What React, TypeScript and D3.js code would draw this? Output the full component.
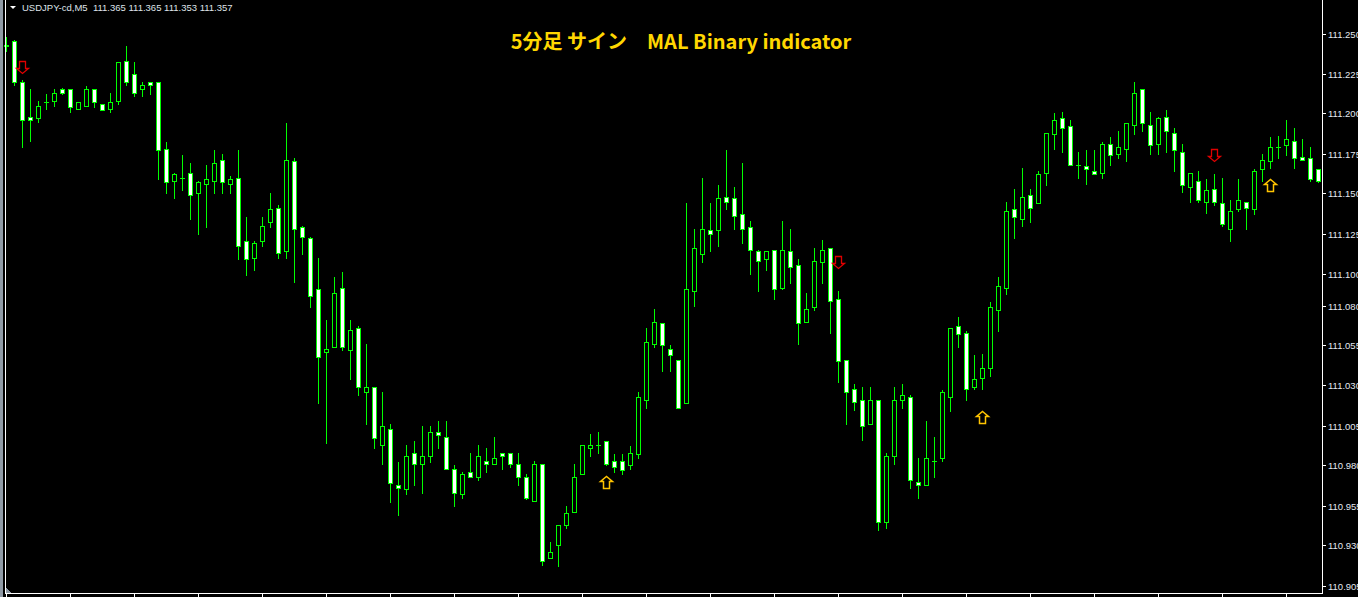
import React, { useRef, useEffect } from "react";
import * as d3 from "d3";

// USDJPY M5 bars, left to right
const openPrices = [
  111.243, 111.245, 111.220, 111.198, 111.197, 111.207, 111.208, 111.215, 111.215, 111.203,
  111.205, 111.215, 111.206, 111.203, 111.208, 111.233, 111.225, 111.215, 111.220, 111.220,
  111.178, 111.158, 111.160, 111.163, 111.150, 111.156, 111.158, 111.171, 111.156, 111.160,
  111.120, 111.110, 111.120, 111.132, 111.141, 111.114, 111.170, 111.129, 111.122, 111.090,
  111.051, 111.054, 111.091, 111.052, 111.066, 111.026, 111.029, 110.993, 111.003, 110.968,
  110.965, 110.988, 110.981, 110.986, 111.001, 110.998, 110.978, 110.962, 110.976, 110.973,
  110.983, 110.981, 110.988, 110.988, 110.981, 110.973, 110.958, 110.981, 110.922, 110.930,
  110.943, 110.951, 110.975, 110.991, 110.993, 110.995, 110.983, 110.983, 110.980, 110.987,
  111.021, 111.056, 111.069, 111.053, 111.046, 111.019, 111.089, 111.112, 111.127, 111.127,
  111.148, 111.147, 111.137, 111.129, 111.114, 111.109, 111.115, 111.091, 111.114, 111.105,
  111.070, 111.079, 111.107, 111.116, 111.084, 111.046, 111.028, 111.021, 111.006, 111.021,
  110.945, 110.986, 111.021, 111.023, 110.970, 110.968, 110.983, 110.985, 111.023, 111.067,
  111.063, 111.029, 111.035, 111.041, 111.077, 111.091, 111.140, 111.134, 111.149, 111.144,
  111.163, 111.187, 111.197, 111.192, 111.168, 111.167, 111.164, 111.163, 111.181, 111.175,
  111.178, 111.193, 111.215, 111.193, 111.181, 111.198, 111.188, 111.176, 111.154, 111.158,
  111.145, 111.153, 111.144, 111.128, 111.140, 111.145, 111.140, 111.165, 111.170, 111.179,
  111.180, 111.183, 111.173, 111.172, 111.165,
];
const highPrices = [
  111.248, 111.246, 111.221, 111.215, 111.208, 111.212, 111.215, 111.216, 111.215, 111.207,
  111.217, 111.215, 111.206, 111.213, 111.232, 111.242, 111.232, 111.220, 111.220, 111.220,
  111.182, 111.163, 111.174, 111.169, 111.158, 111.168, 111.177, 111.175, 111.161, 111.177,
  111.135, 111.120, 111.135, 111.150, 111.143, 111.194, 111.172, 111.130, 111.123, 111.110,
  111.071, 111.098, 111.101, 111.071, 111.067, 111.056, 111.029, 111.026, 111.006, 110.982,
  110.993, 110.995, 111.005, 111.005, 111.008, 111.008, 110.980, 110.976, 110.988, 110.993,
  110.991, 110.998, 110.988, 110.988, 110.988, 110.975, 110.983, 110.981, 110.932, 110.943,
  110.955, 110.981, 110.993, 111.000, 111.001, 110.995, 110.987, 110.987, 110.992, 111.026,
  111.066, 111.078, 111.069, 111.055, 111.046, 111.144, 111.128, 111.160, 111.144, 111.155,
  111.177, 111.154, 111.169, 111.133, 111.115, 111.114, 111.115, 111.133, 111.128, 111.109,
  111.088, 111.116, 111.121, 111.116, 111.089, 111.046, 111.031, 111.029, 111.029, 111.021,
  110.988, 111.029, 111.031, 111.024, 110.985, 111.008, 110.998, 111.027, 111.066, 111.073,
  111.064, 111.049, 111.050, 111.082, 111.098, 111.145, 111.153, 111.166, 111.153, 111.164,
  111.188, 111.200, 111.201, 111.196, 111.176, 111.177, 111.177, 111.182, 111.185, 111.189,
  111.194, 111.220, 111.215, 111.201, 111.198, 111.202, 111.191, 111.181, 111.163, 111.164,
  111.159, 111.162, 111.160, 111.146, 111.159, 111.145, 111.165, 111.175, 111.185, 111.186,
  111.196, 111.191, 111.184, 111.179, 111.165,
];
const lowPrices = [
  111.239, 111.218, 111.179, 111.183, 111.195, 111.203, 111.205, 111.212, 111.201, 111.203,
  111.205, 111.204, 111.202, 111.201, 111.206, 111.218, 111.211, 111.211, 111.212, 111.159,
  111.150, 111.147, 111.152, 111.134, 111.125, 111.129, 111.150, 111.150, 111.150, 111.109,
  111.099, 111.102, 111.117, 111.129, 111.110, 111.110, 111.095, 111.112, 111.079, 111.019,
  110.994, 111.054, 111.052, 111.034, 111.024, 111.006, 110.991, 110.981, 110.957, 110.949,
  110.962, 110.968, 110.963, 110.982, 110.991, 110.978, 110.955, 110.960, 110.973, 110.971,
  110.976, 110.981, 110.978, 110.979, 110.968, 110.959, 110.958, 110.918, 110.922, 110.917,
  110.941, 110.951, 110.975, 110.986, 110.988, 110.980, 110.976, 110.975, 110.978, 110.985,
  111.016, 111.054, 111.039, 111.039, 111.016, 111.019, 111.080, 111.107, 111.114, 111.117,
  111.140, 111.128, 111.119, 111.100, 111.089, 111.102, 111.084, 111.090, 111.094, 111.056,
  111.070, 111.077, 111.094, 111.063, 111.032, 111.006, 111.015, 110.996, 111.006, 110.940,
  110.941, 110.981, 111.016, 110.966, 110.960, 110.968, 110.973, 110.983, 111.014, 111.054,
  111.021, 111.028, 111.028, 111.036, 111.064, 111.087, 111.122, 111.130, 111.132, 111.144,
  111.155, 111.178, 111.176, 111.168, 111.160, 111.156, 111.162, 111.160, 111.168, 111.172,
  111.170, 111.187, 111.189, 111.175, 111.175, 111.176, 111.164, 111.151, 111.145, 111.145,
  111.138, 111.143, 111.130, 111.120, 111.139, 111.128, 111.137, 111.158, 111.166, 111.172,
  111.174, 111.166, 111.171, 111.158, 111.157,
];
const closePrices = [
  111.242, 111.220, 111.196, 111.196, 111.205, 111.207, 111.213, 111.213, 111.204, 111.207,
  111.215, 111.207, 111.202, 111.207, 111.232, 111.220, 111.213, 111.218, 111.218, 111.177,
  111.157, 111.162, 111.160, 111.149, 111.157, 111.159, 111.169, 111.157, 111.159, 111.117,
  111.109, 111.119, 111.130, 111.140, 111.113, 111.171, 111.128, 111.123, 111.086, 111.048,
  111.053, 111.088, 111.054, 111.065, 111.029, 111.029, 110.997, 111.005, 110.969, 110.966,
  110.986, 110.981, 110.986, 111.001, 110.999, 110.978, 110.963, 110.975, 110.973, 110.986,
  110.981, 110.985, 110.986, 110.981, 110.973, 110.960, 110.981, 110.920, 110.926, 110.943,
  110.950, 110.973, 110.993, 110.993, 110.993, 110.981, 110.979, 110.977, 110.988, 111.023,
  111.057, 111.070, 111.055, 111.049, 111.016, 111.090, 111.116, 111.128, 111.125, 111.147,
  111.145, 111.136, 111.128, 111.115, 111.108, 111.114, 111.090, 111.115, 111.104, 111.069,
  111.078, 111.108, 111.115, 111.083, 111.045, 111.026, 111.020, 111.005, 111.021, 110.945,
  110.986, 111.021, 111.024, 110.971, 110.968, 110.985, 110.983, 111.026, 111.066, 111.062,
  111.028, 111.034, 111.041, 111.079, 111.092, 111.139, 111.135, 111.148, 111.141, 111.162,
  111.188, 111.196, 111.191, 111.168, 111.168, 111.165, 111.162, 111.181, 111.174, 111.179,
  111.194, 111.213, 111.194, 111.180, 111.197, 111.189, 111.177, 111.155, 111.163, 111.146,
  111.152, 111.145, 111.131, 111.139, 111.146, 111.141, 111.164, 111.171, 111.179, 111.179,
  111.184, 111.172, 111.171, 111.159, 111.158,
];

const priceTicks = [
  111.25, 111.225, 111.2, 111.175, 111.15, 111.125, 111.1, 111.08,
  111.055, 111.03, 111.005, 110.98, 110.955, 110.93, 110.905,
];

// indicator arrows: bar index + price level of the arrow centre
const sellBars = [2, 104, 151];
const sellLevels = [111.229, 111.107, 111.174];
const buyBars = [75, 122, 158];
const buyLevels = [110.97, 111.01, 111.155];

const symbolLabel = "USDJPY-cd,M5  111.365 111.365 111.353 111.357";
const chartTitle = "5分足 サイン　MAL Binary indicator";

const W = 1358;
const H = 597;
const axisX = 1322;
const bottomY = 593;

const App = () => {
  const ref = useRef<SVGSVGElement>(null);

  useEffect(() => {
    document.body.style.margin = "0";
    document.body.style.background = "#000";
    const svg = d3.select(ref.current);
    svg.selectAll("*").remove();

    const n = openPrices.length;
    const x = d3.scaleLinear().domain([0, n - 1]).range([6, 6 + 8 * (n - 1)]);
    const y = d3.scaleLinear().domain([110.905, 111.25]).range([585.5, 33.5]);
    const py = (v: number) => Math.round(y(v));

    svg.append("rect").attr("width", W).attr("height", H).attr("fill", "#000");

    const bars = d3.range(n).map((i) => ({
      i,
      o: openPrices[i],
      h: highPrices[i],
      l: lowPrices[i],
      c: closePrices[i],
    }));

    const g = svg.append("g").attr("shape-rendering", "crispEdges");

    // wicks
    g.selectAll("line.wick")
      .data(bars)
      .join("line")
      .attr("class", "wick")
      .attr("x1", (d) => x(d.i) + 0.5)
      .attr("x2", (d) => x(d.i) + 0.5)
      .attr("y1", (d) => py(d.h))
      .attr("y2", (d) => py(d.l) + 1)
      .attr("stroke", "#00ff00")
      .attr("stroke-width", 1);

    // bodies: white = falling bar, black = rising bar
    const bodies = bars.filter((d) => d.o !== d.c);
    g.selectAll("rect.body")
      .data(bodies)
      .join("rect")
      .attr("class", "body")
      .attr("x", (d) => x(d.i) - 1.5)
      .attr("y", (d) => py(Math.max(d.o, d.c)) + 0.5)
      .attr("width", 4)
      .attr("height", (d) => Math.max(1, py(Math.min(d.o, d.c)) - py(Math.max(d.o, d.c))))
      .attr("fill", (d) => (d.c < d.o ? "#ffffff" : "#000000"))
      .attr("stroke", "#00ff00")
      .attr("stroke-width", 1);

    // doji
    g.selectAll("line.doji")
      .data(bars.filter((d) => d.o === d.c))
      .join("line")
      .attr("class", "doji")
      .attr("x1", (d) => x(d.i) - 2)
      .attr("x2", (d) => x(d.i) + 3)
      .attr("y1", (d) => py(d.o) + 0.5)
      .attr("y2", (d) => py(d.o) + 0.5)
      .attr("stroke", "#00ff00");

    // signal arrows
    const downArrow = "M-3,-6L3,-6L3,1L6,1L0,6L-6,1L-3,1Z";
    const upArrow = "M-3,6L3,6L3,-1L6,-1L0,-6L-6,-1L-3,-1Z";
    svg.append("g")
      .selectAll("path")
      .data(sellBars.map((b, k) => ({ b, p: sellLevels[k] })))
      .join("path")
      .attr("transform", (d) => `translate(${x(d.b) + 0.5},${py(d.p) + 0.5})`)
      .attr("d", downArrow)
      .attr("fill", "none")
      .attr("stroke", "#e00000")
      .attr("stroke-width", 1.3);
    svg.append("g")
      .selectAll("path")
      .data(buyBars.map((b, k) => ({ b, p: buyLevels[k] })))
      .join("path")
      .attr("transform", (d) => `translate(${x(d.b) + 0.5},${py(d.p) + 0.5})`)
      .attr("d", upArrow)
      .attr("fill", "none")
      .attr("stroke", "#ffc400")
      .attr("stroke-width", 1.5);

    // frame
    const frame = svg.append("g").attr("shape-rendering", "crispEdges");
    frame.append("rect").attr("x", 0).attr("y", 0).attr("width", 3).attr("height", H).attr("fill", "#8e99a4");
    frame.append("line").attr("x1", 5.5).attr("x2", 5.5).attr("y1", 0).attr("y2", bottomY + 1)
      .attr("stroke", "#ffffff");
    frame.append("line").attr("x1", axisX + 0.5).attr("x2", axisX + 0.5).attr("y1", 0).attr("y2", bottomY + 1)
      .attr("stroke", "#ffffff");
    frame.append("line").attr("x1", 5).attr("x2", axisX + 1).attr("y1", bottomY + 0.5).attr("y2", bottomY + 0.5)
      .attr("stroke", "#ffffff");
    frame.append("path").attr("d", `M6,${bottomY - 5}L11,${bottomY}L6,${bottomY}Z`).attr("fill", "#8e99a4");

    // time ticks every 8 bars
    frame.selectAll("line.tt")
      .data(d3.range(0, n, 8))
      .join("line")
      .attr("class", "tt")
      .attr("x1", (i) => x(i) + 0.5)
      .attr("x2", (i) => x(i) + 0.5)
      .attr("y1", bottomY)
      .attr("y2", H)
      .attr("stroke", "#ffffff");

    // price axis
    frame.selectAll("line.pt")
      .data(priceTicks)
      .join("line")
      .attr("class", "pt")
      .attr("x1", axisX)
      .attr("x2", axisX + 4)
      .attr("y1", (v) => py(v) + 0.5)
      .attr("y2", (v) => py(v) + 0.5)
      .attr("stroke", "#ffffff");
    svg.append("g")
      .selectAll("text")
      .data(priceTicks)
      .join("text")
      .attr("x", axisX + 6)
      .attr("y", (v) => py(v) + 4)
      .attr("fill", "#e4e8f0")
      .style("font", "9.5px 'Liberation Sans', Arial, sans-serif")
      .text((v) => d3.format(".3f")(v));

    // header
    svg.append("path").attr("d", "M10,6L16,6L13,9Z").attr("fill", "#ffffff");
    svg.append("text")
      .attr("x", 22)
      .attr("y", 11)
      .attr("fill", "#dfe3ea")
      .style("font", "9.5px 'Liberation Sans', Arial, sans-serif")
      .attr("xml:space", "preserve")
      .text(symbolLabel);

    svg.append("text")
      .attr("x", 681)
      .attr("y", 49)
      .attr("text-anchor", "middle")
      .attr("fill", "#ffd700")
      .style("font", "bold 20px 'Noto Sans CJK JP', 'Noto Sans', sans-serif")
      .text(chartTitle);
  }, []);

  return <svg ref={ref} width={W} height={H} style={{ display: "block" }} />;
};

export default App;
